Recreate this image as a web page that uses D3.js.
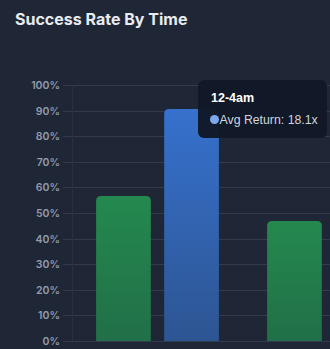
<!DOCTYPE html>
<html>
<head>
<meta charset="utf-8">
<script src="https://cdn.jsdelivr.net/npm/d3@7"></script>
<style>
  html, body { margin: 0; padding: 0; background: #1f2636; }
  svg { display: block; }
</style>
</head>
<body>
<svg id="canvas" width="330" height="349"></svg>
<script>
const timeSlots = ["12-4am", "4-8am"];
const seriesKeys = ["success", "avgReturn"];
const successRate = [0.566, 0.469];
const avgReturnPct = [0.906, null];
const avgReturnLabel = ["18.1x", null];
const yTicks = [0, 0.1, 0.2, 0.3, 0.4, 0.5, 0.6, 0.7, 0.8, 0.9, 1.0];

const settings = {
  width: 330,
  height: 349,
  plot: { left: 72, top: 85, bottom: 341, gridLeft: 63 },
  groupStep: 171,
};

const svg = d3.select("#canvas");

const defs = svg.append("defs");
const grad = (id, top, bottom) => {
  const g = defs.append("linearGradient")
    .attr("id", id).attr("x1", 0).attr("y1", 0).attr("x2", 0).attr("y2", 1);
  g.append("stop").attr("offset", "0%").attr("stop-color", top);
  g.append("stop").attr("offset", "100%").attr("stop-color", bottom);
};
grad("gGreen", "#24894e", "#216f48");
grad("gBlue", "#3671cd", "#2d5592");

// title
svg.append("text")
  .attr("x", 15)
  .attr("y", 25)
  .attr("font-family", "Inter, 'Open Sans', sans-serif")
  .attr("font-size", "16px")
  .attr("font-weight", 700)
  .attr("fill", "#e8ebf0")
  .text("Success Rate By Time");

const y = d3.scaleLinear()
  .domain([0, 1])
  .range([settings.plot.bottom, settings.plot.top]);

const x0 = d3.scaleBand()
  .domain(timeSlots)
  .range([settings.plot.left, settings.plot.left + settings.groupStep * 2])
  .paddingInner(0.282)
  .paddingOuter(0.141);

const x1 = d3.scaleBand()
  .domain(seriesKeys)
  .range([0, x0.bandwidth()])
  .paddingInner(0.196);

// grid
svg.append("g")
  .selectAll("line")
  .data(yTicks)
  .join("line")
  .attr("x1", settings.plot.gridLeft)
  .attr("x2", settings.width)
  .attr("y1", d => Math.round(y(d)) + 0.5)
  .attr("y2", d => Math.round(y(d)) + 0.5)
  .attr("stroke", "#323a4b")
  .attr("stroke-width", 1);

svg.append("line")
  .attr("x1", settings.plot.left + 0.5)
  .attr("x2", settings.plot.left + 0.5)
  .attr("y1", settings.plot.top)
  .attr("y2", settings.plot.bottom)
  .attr("stroke", "#283041");

// y labels
svg.append("g")
  .selectAll("text")
  .data(yTicks)
  .join("text")
  .attr("x", 60)
  .attr("y", d => y(d) + 4)
  .attr("text-anchor", "end")
  .attr("font-family", "Inter, 'Open Sans', sans-serif")
  .attr("font-size", "10.5px")
  .attr("font-weight", 600)
  .attr("fill", "#939bab")
  .text(d => d3.format(".0%")(d));

// bars
const rows = timeSlots.map((t, i) => ({
  slot: t,
  values: [
    { key: "success", v: successRate[i] },
    { key: "avgReturn", v: avgReturnPct[i] },
  ].filter(d => d.v != null),
}));

function topRounded(x, yTop, w, h, r) {
  return `M${x},${yTop + h}V${yTop + r}Q${x},${yTop} ${x + r},${yTop}` +
    `H${x + w - r}Q${x + w},${yTop} ${x + w},${yTop + r}V${yTop + h}Z`;
}

svg.append("g")
  .selectAll("g")
  .data(rows)
  .join("g")
  .attr("transform", d => `translate(${x0(d.slot)},0)`)
  .selectAll("path")
  .data(d => d.values)
  .join("path")
  .attr("d", d => topRounded(x1(d.key), y(d.v), x1.bandwidth(), y(0) - y(d.v), 5))
  .attr("fill", d => d.key === "success" ? "url(#gGreen)" : "url(#gBlue)");

// tooltip for hovered bar
const tip = svg.append("g").attr("transform", "translate(198,80)");
tip.append("rect")
  .attr("width", 129)
  .attr("height", 58)
  .attr("rx", 6)
  .attr("fill", "#111827")
  .attr("fill-opacity", 0.96);
tip.append("text")
  .attr("x", 13)
  .attr("y", 22)
  .attr("font-family", "'Liberation Sans', Arial, sans-serif")
  .attr("font-size", "12.5px")
  .attr("font-weight", 700)
  .attr("fill", "#ffffff")
  .text(timeSlots[0]);
tip.append("circle")
  .attr("cx", 16.5)
  .attr("cy", 39.5)
  .attr("r", 4.5)
  .attr("fill", "#7ea8ec");
tip.append("text")
  .attr("x", 21.5)
  .attr("y", 43.5)
  .attr("font-family", "'Liberation Sans', Arial, sans-serif")
  .attr("font-size", "12.3px")
  .attr("fill", "#d2d6de")
  .text(`Avg Return: ${avgReturnLabel[0]}`);
</script>
</body>
</html>
